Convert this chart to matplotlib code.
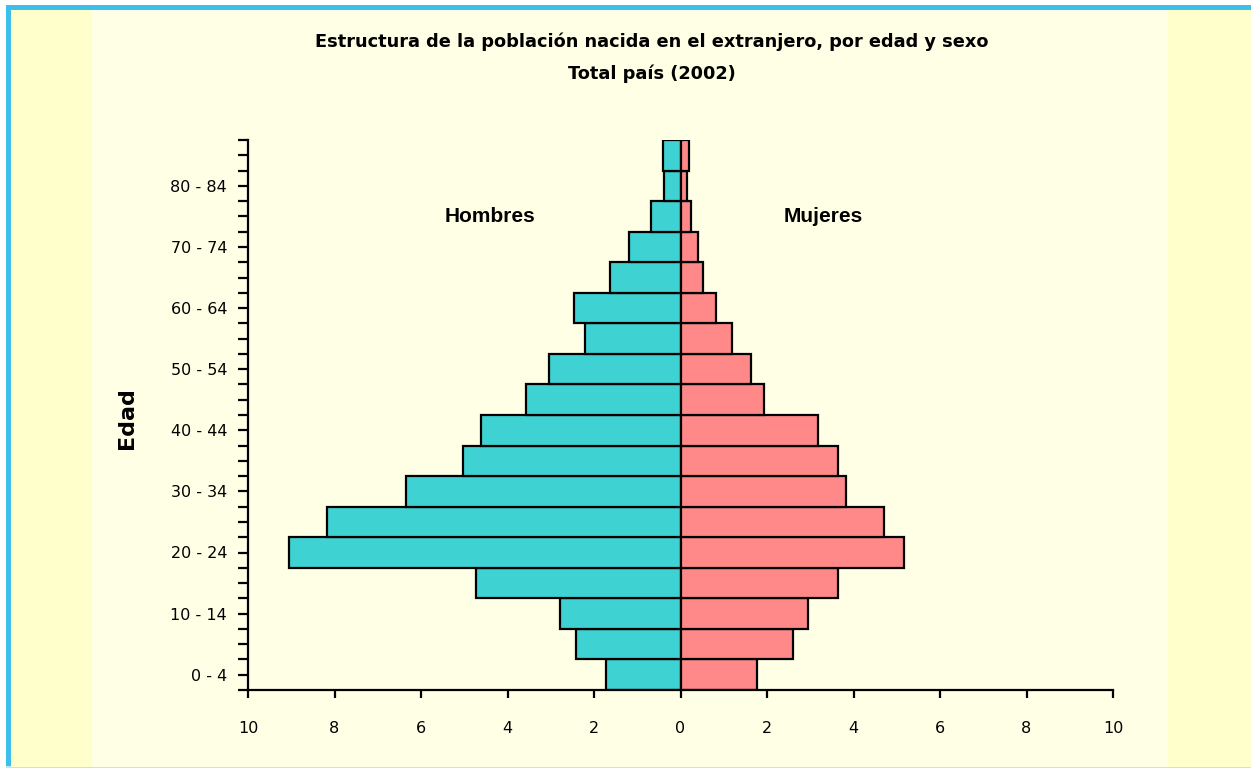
"""Population pyramid: foreign-born population by age and sex (2002)."""

import matplotlib
matplotlib.use("Agg")
import matplotlib.pyplot as plt
from matplotlib.patches import Rectangle
from matplotlib.ticker import FixedLocator, FuncFormatter
import numpy as np

age_groups = ["0 - 4", "5 - 9", "10 - 14", "15 - 19", "20 - 24", "25 - 29",
              "30 - 34", "35 - 39", "40 - 44", "45 - 49", "50 - 54", "55 - 59",
              "60 - 64", "65 - 69", "70 - 74", "75 - 79", "80 - 84", "85 +"]
hombres = [1.72, 2.42, 2.79, 4.73, 9.05, 8.17, 6.34, 5.04, 4.62, 3.58,
           3.03, 2.20, 2.47, 1.64, 1.18, 0.68, 0.39, 0.40]
mujeres = [1.76, 2.59, 2.95, 3.64, 5.17, 4.70, 3.83, 3.65, 3.19, 1.94,
           1.62, 1.20, 0.83, 0.51, 0.41, 0.24, 0.14, 0.19]
x_ticks = [-10, -8, -6, -4, -2, 0, 2, 4, 6, 8, 10]

W, H = 1251, 768
fig = plt.figure(figsize=(W / 100, H / 100), dpi=100, facecolor="white")


def px_rect(x0, y0, x1, y1, color):
    # rectangle given in top-down pixel coords
    fig.patches.append(Rectangle((x0 / W, 1 - y1 / H), (x1 - x0) / W, (y1 - y0) / H,
                                 transform=fig.transFigure, facecolor=color,
                                 edgecolor="none", zorder=-10))


px_rect(6, 5, W + 10, H + 5, "#3CC0EA")
px_rect(6, H - 2, W + 10, H + 5, "#BDE6F0")
px_rect(11, 10, W + 10, H - 1, "#FFFFCC")
px_rect(92, 10, 1168, H - 1, "#FFFFE6")

ax = fig.add_axes([248 / W, 78 / H, (1113 - 248) / W, (690 - 140) / H])
ax.patch.set_alpha(0)

y = np.arange(len(age_groups))
ax.barh(y, -np.array(hombres), height=1.0, color="#3ED2D2", edgecolor="black", linewidth=1.6)
ax.barh(y, mujeres, height=1.0, color="#FF8888", edgecolor="black", linewidth=1.6)

ax.set_xlim(-10, 10)
ax.set_ylim(-0.5, len(age_groups) - 0.5)

for s in ("top", "right"):
    ax.spines[s].set_visible(False)
for s in ("left", "bottom"):
    ax.spines[s].set_linewidth(1.6)

ax.set_xticks(x_ticks)
ax.xaxis.set_major_formatter(FuncFormatter(lambda v, p: f"{abs(v):g}"))
ax.tick_params(axis="x", length=6, width=1.6, pad=16, labelsize=11.5)

ax.set_yticks(y[::2])
ax.set_yticklabels(age_groups[::2])
ax.yaxis.set_minor_locator(FixedLocator(np.arange(-0.5, len(age_groups), 0.5)))
ax.tick_params(axis="y", which="both", length=7, width=1.6, labelsize=11.5, pad=8)

label_font = ["Liberation Sans", "DejaVu Sans"]
fig.text(490 / W, 1 - 216 / H, "Hombres", ha="center", va="center",
         fontsize=15, fontweight="bold", family=label_font)
fig.text(823 / W, 1 - 216 / H, "Mujeres", ha="center", va="center",
         fontsize=15, fontweight="bold", family=label_font)

title_font = ["Liberation Sans Narrow", "DejaVu Sans"]
fig.text(652 / W, 1 - 42 / H, "Estructura de la población nacida en el extranjero, por edad y sexo",
         ha="center", va="center", fontsize=12.8, fontweight="bold", family=title_font)
fig.text(652 / W, 1 - 74 / H, "Total país (2002)", ha="center", va="center",
         fontsize=12.8, fontweight="bold", family=title_font)
fig.text(127 / W, 1 - 418 / H, "Edad", ha="center", va="center", rotation=90,
         fontsize=16, fontweight="bold", family=title_font)

fig.savefig("out.png", dpi=100, facecolor=fig.get_facecolor())
